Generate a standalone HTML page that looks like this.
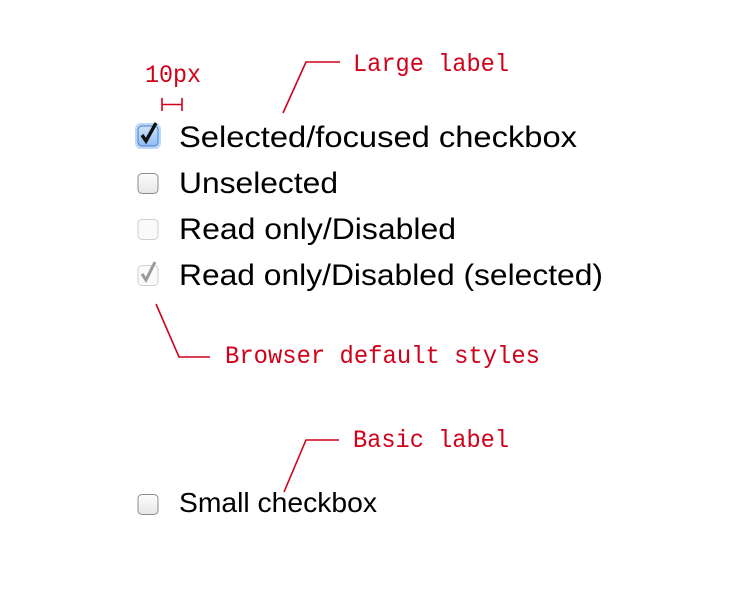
<!DOCTYPE html>
<html><head><meta charset="utf-8"><style>html,body{margin:0;padding:0;background:#fff;}svg{display:block}</style></head>
<body>
<svg width="740" height="594" viewBox="0 0 740 594" xmlns="http://www.w3.org/2000/svg">
<defs>
<linearGradient id="g" x1="0" y1="0" x2="0" y2="1"><stop offset="0" stop-color="#fdfdfd"/><stop offset="1" stop-color="#e6e6e6"/></linearGradient>
<linearGradient id="gb" x1="0" y1="0" x2="0" y2="1"><stop offset="0" stop-color="#cfe3fb"/><stop offset="1" stop-color="#8dbcf2"/></linearGradient>
</defs>
<g fill="none" stroke="#d0021b" stroke-width="1.6">
<polyline points="283,113 306,62 340,62"/>
<polyline points="156,304 179,357 210,357"/>
<polyline points="284,492 306,440 339,440"/>
<line x1="162" y1="98" x2="162" y2="111"/><line x1="182" y1="98" x2="182" y2="111"/><line x1="162" y1="104.5" x2="182" y2="104.5"/>
</g>
<g font-family="Liberation Mono, monospace" font-size="25" fill="#d0021b">
<text x="353" y="71" textLength="156" lengthAdjust="spacingAndGlyphs">Large label</text>
<text x="145" y="82" textLength="56" lengthAdjust="spacingAndGlyphs">10px</text>
<text x="225" y="363" textLength="315" lengthAdjust="spacingAndGlyphs">Browser default styles</text>
<text x="353" y="447" textLength="156" lengthAdjust="spacingAndGlyphs">Basic label</text>
</g>
<rect x="135" y="123" width="26" height="26" rx="6" fill="#8fbef5" opacity="0.6"/>
<rect x="138" y="126" width="20" height="20" rx="4" fill="url(#gb)" stroke="#4a7fc4"/>
<path d="M142,135 L146,141 L156,123" fill="none" stroke="#111" stroke-width="3.4"/>
<rect x="138" y="173.5" width="20" height="20" rx="4" fill="url(#g)" stroke="#8c8c8c"/>
<rect x="138" y="219.5" width="20" height="20" rx="4" fill="#fafafa" stroke="#cfcfcf"/>
<rect x="138" y="265.5" width="20" height="20" rx="4" fill="#fafafa" stroke="#cfcfcf"/>
<path d="M142,274 L146,280 L155,262" fill="none" stroke="#9a9a9a" stroke-width="3"/>
<rect x="138" y="494.5" width="20" height="20" rx="4" fill="url(#g)" stroke="#8c8c8c"/>
<g font-family="Liberation Sans, Arial, sans-serif" font-size="30" fill="#000">
<text x="179" y="147" textLength="398" lengthAdjust="spacingAndGlyphs">Selected/focused checkbox</text>
<text x="179" y="193" textLength="159" lengthAdjust="spacingAndGlyphs">Unselected</text>
<text x="179" y="239" textLength="277" lengthAdjust="spacingAndGlyphs">Read only/Disabled</text>
<text x="179" y="285" textLength="424" lengthAdjust="spacingAndGlyphs">Read only/Disabled (selected)</text>
<text x="179" y="512" font-size="28" textLength="198" lengthAdjust="spacingAndGlyphs">Small checkbox</text>
</g>
</svg>
</body></html>
